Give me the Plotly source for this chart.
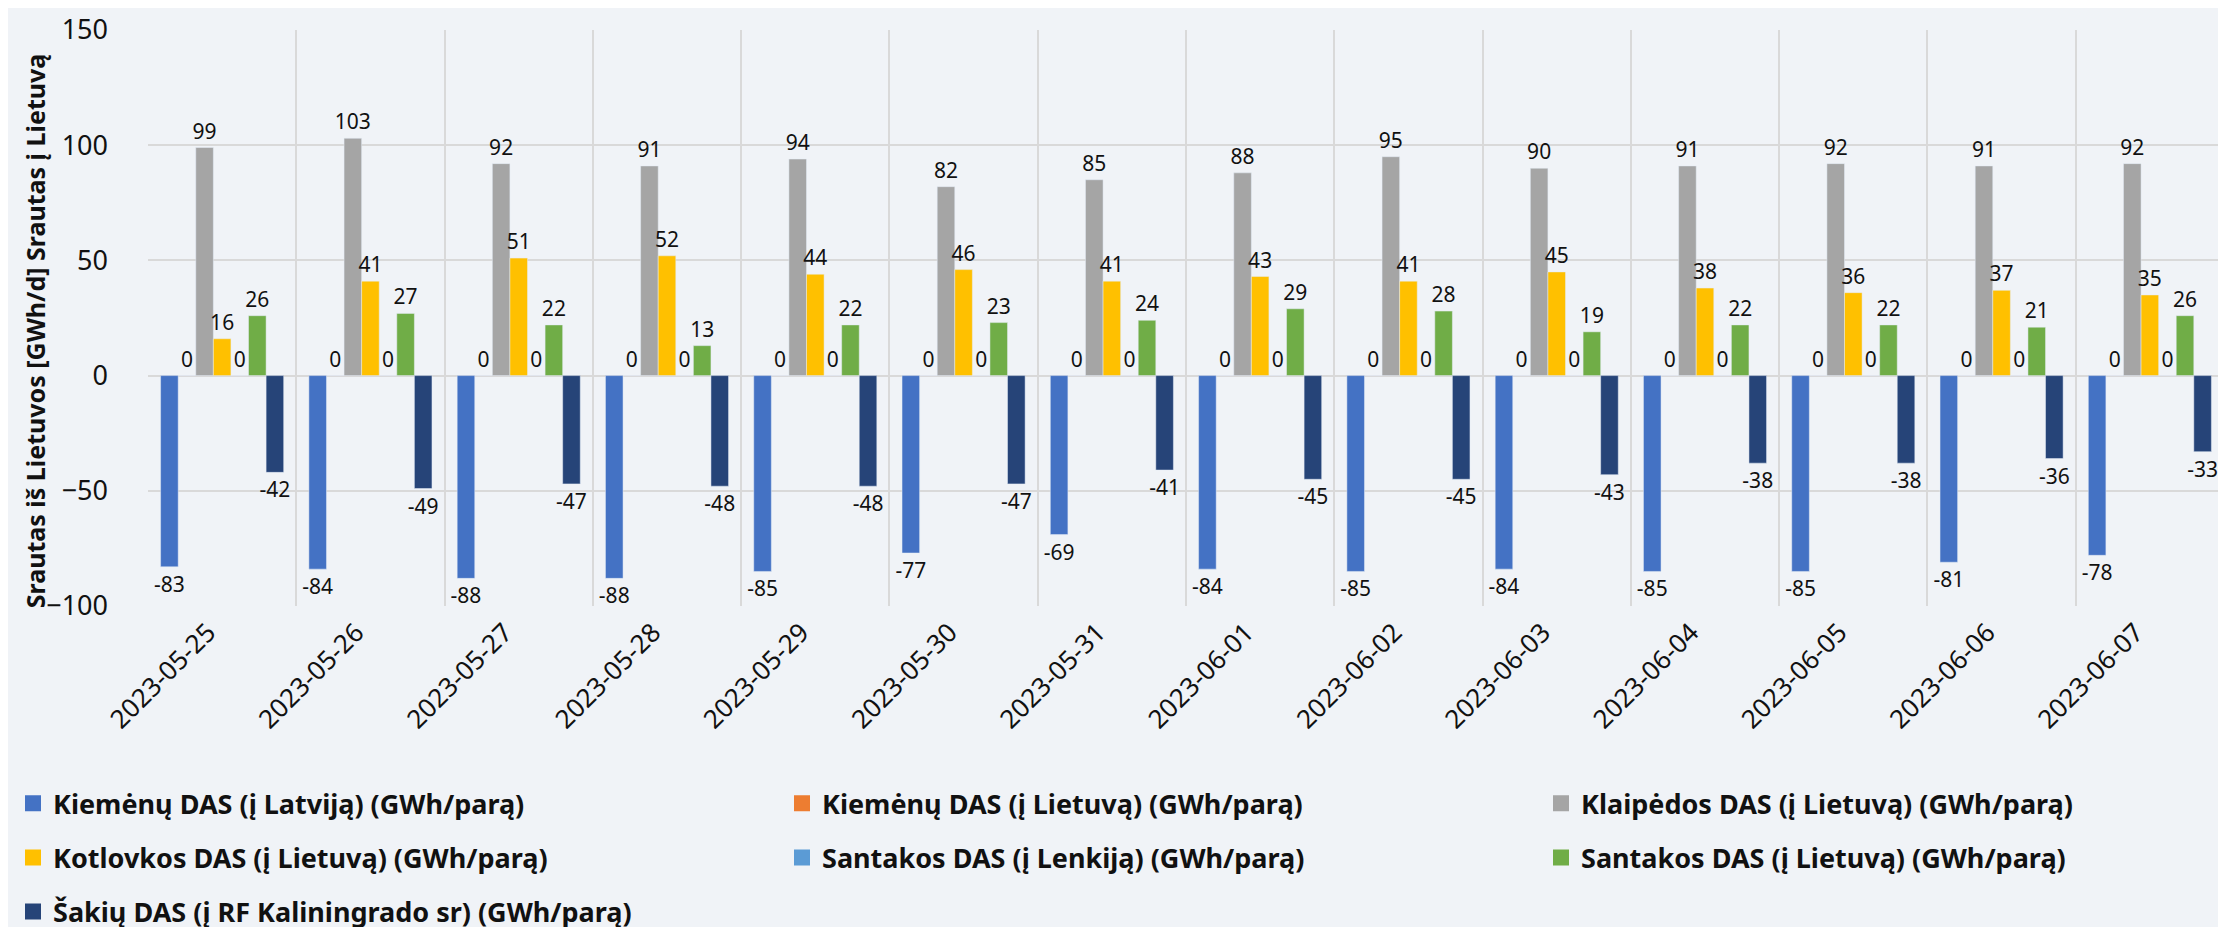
import plotly.graph_objects as go

dates = ["2023-05-25", "2023-05-26", "2023-05-27", "2023-05-28", "2023-05-29",
         "2023-05-30", "2023-05-31", "2023-06-01", "2023-06-02", "2023-06-03",
         "2023-06-04", "2023-06-05", "2023-06-06", "2023-06-07"]

kiemenu_lv = [-83, -84, -88, -88, -85, -77, -69, -84, -85, -84, -85, -85, -81, -78]
kiemenu_lt = [0, 0, 0, 0, 0, 0, 0, 0, 0, 0, 0, 0, 0, 0]
klaipedos_lt = [99, 103, 92, 91, 94, 82, 85, 88, 95, 90, 91, 92, 91, 92]
kotlovkos_lt = [16, 41, 51, 52, 44, 46, 41, 43, 41, 45, 38, 36, 37, 35]
santakos_pl = [0, 0, 0, 0, 0, 0, 0, 0, 0, 0, 0, 0, 0, 0]
santakos_lt = [26, 27, 22, 13, 22, 23, 24, 29, 28, 19, 22, 22, 21, 26]
sakiu_rf = [-42, -49, -47, -48, -48, -47, -41, -45, -45, -43, -38, -38, -36, -33]

# name, values, colour, legend column
series = [
    ("Kiemėnų DAS (į Latviją) (GWh/parą)", kiemenu_lv, "#4472C4", "legend"),
    ("Kiemėnų DAS (į Lietuvą) (GWh/parą)", kiemenu_lt, "#ED7D31", "legend2"),
    ("Klaipėdos DAS (į Lietuvą) (GWh/parą)", klaipedos_lt, "#A5A5A5", "legend3"),
    ("Kotlovkos DAS (į Lietuvą) (GWh/parą)", kotlovkos_lt, "#FFC000", "legend"),
    ("Santakos DAS (į Lenkiją) (GWh/parą)", santakos_pl, "#5B9BD5", "legend2"),
    ("Santakos DAS (į Lietuvą) (GWh/parą)", santakos_lt, "#70AD47", "legend3"),
    ("Šakių DAS (į RF Kaliningrado sr) (GWh/parą)", sakiu_rf, "#264478", "legend"),
]

FONT = "Noto Sans"
bg = "#F0F3F7"
ink = "#111111"

fig = go.Figure()
for name, vals, col, leg in series:
    fig.add_trace(go.Bar(
        x=dates, y=vals, name=name, marker_color=col, showlegend=False,
        text=[str(v) for v in vals], textposition="outside",
        textfont=dict(family=FONT, size=21, color=ink),
        constraintext="none", cliponaxis=False,
    ))
# legend entries with square swatches, split over three columns
for name, vals, col, leg in series:
    fig.add_trace(go.Scatter(
        x=[None], y=[None], mode="markers", name=name, legend=leg,
        legendgroup=name,
        marker=dict(symbol="square", size=16, color=col),
    ))

leg_common = dict(
    orientation="v", xref="container", yref="container",
    yanchor="top", xanchor="left", y=0.168,
    font=dict(family=FONT, size=27, color=ink, weight="bold"),
    tracegroupgap=16, itemsizing="trace", bgcolor="rgba(0,0,0,0)",
)

fig.update_layout(
    width=2226, height=927,
    barmode="group", bargap=0.17, bargroupgap=0,
    paper_bgcolor=bg, plot_bgcolor=bg,
    margin=dict(l=140, r=10, t=22, b=329, autoexpand=False),
    font=dict(family=FONT, color=ink),
    legend=dict(leg_common, x=5 / 2226),
    legend2=dict(leg_common, x=774 / 2226),
    legend3=dict(leg_common, x=1533 / 2226),
    annotations=[dict(
        text="Srautas iš Lietuvos [GWh/d] Srautas į Lietuvą",
        xref="paper", yref="paper", x=(27 - 140) / 2076, y=0.477,
        xanchor="center", yanchor="middle", textangle=-90, showarrow=False,
        font=dict(family=FONT, size=25, color=ink, weight="bold"),
    )],
)

fig.update_xaxes(
    type="category", tickson="boundaries", tickangle=-45,
    showgrid=True, gridcolor="#D9D9D9", gridwidth=2,
    ticks="", showline=False, zeroline=False,
    ticklabelshift=-14, ticklabelstandoff=5,
    tickfont=dict(family=FONT, size=26, color=ink),
)
fig.update_yaxes(
    range=[-100, 150], tickvals=[-100, -50, 0, 50, 100, 150],
    showgrid=True, gridcolor="#D9D9D9", gridwidth=2,
    zeroline=True, zerolinecolor="#D9D9D9", zerolinewidth=2,
    ticks="", ticklabelstandoff=39,
    tickfont=dict(family=FONT, size=27, color=ink),
)

fig.write_html("out.html")
